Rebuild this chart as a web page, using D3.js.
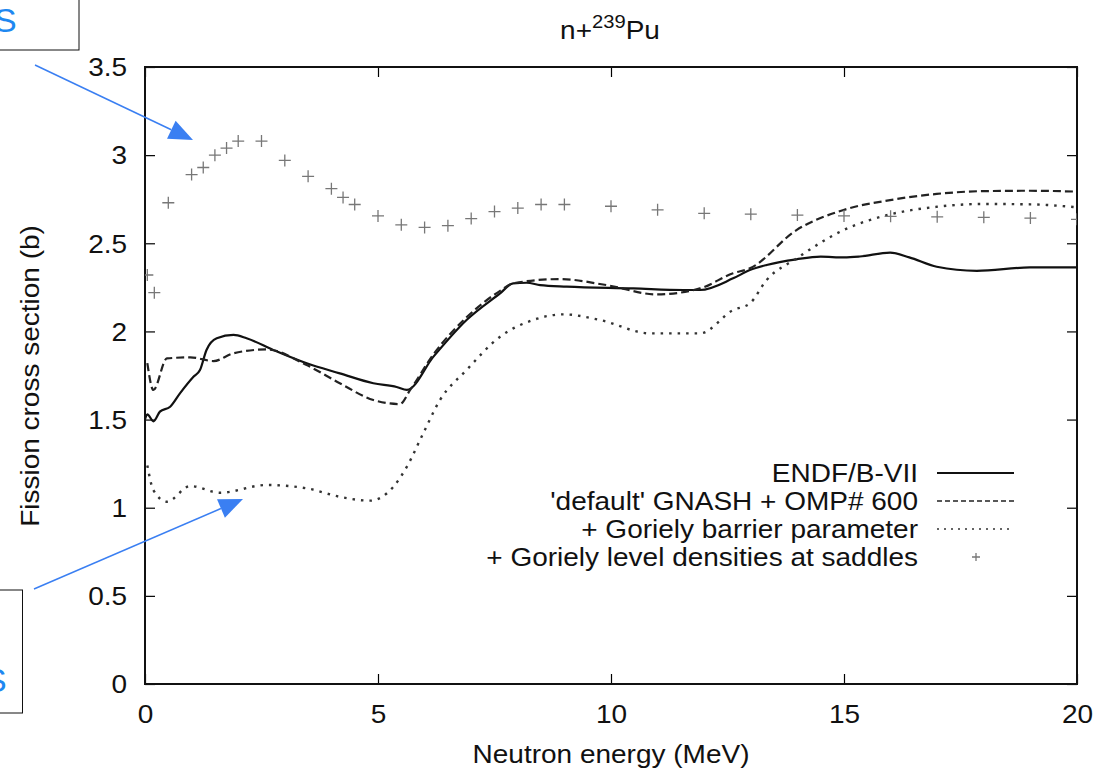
<!DOCTYPE html>
<html><head><meta charset="utf-8">
<script src="https://cdn.jsdelivr.net/npm/d3@7"></script>
<style>
html,body{margin:0;padding:0;background:#fff;}
svg{display:block;font-family:"Liberation Sans",Arial,Helvetica,sans-serif;}
</style></head>
<body>
<svg id="c" width="1099" height="776"></svg>
<script>
// ---- data ----
const xTicks = [0, 5, 10, 15, 20];
const yTicks = [0, 0.5, 1, 1.5, 2, 2.5, 3, 3.5];
const seriesNames = ["ENDF/B-VII", "'default' GNASH + OMP# 600", "+ Goriely barrier parameter", "+ Goriely level densities at saddles"];

const endfE = [0.0, 0.05, 0.18, 0.32, 0.54, 0.75, 1.04, 1.18, 1.32, 1.54, 1.9, 2.18, 2.75, 3.47, 4.18, 4.9, 5.4, 5.62, 6.19, 6.9, 7.62, 7.9, 8.19, 8.48, 9.05, 10.48, 11.55, 11.91, 12.62, 12.98, 13.34, 13.98, 14.5, 15.0, 15.34, 15.99, 16.4, 16.99, 17.85, 18.99, 20.0];
const endfV = [1.50, 1.53, 1.49, 1.545, 1.573, 1.649, 1.743, 1.781, 1.895, 1.961, 1.98, 1.961, 1.895, 1.819, 1.762, 1.706, 1.685, 1.668, 1.857, 2.065, 2.216, 2.273, 2.276, 2.263, 2.254, 2.244, 2.235, 2.235, 2.301, 2.348, 2.377, 2.409, 2.424, 2.420, 2.425, 2.447, 2.42, 2.367, 2.344, 2.363, 2.363];

const gnashE = [0.05, 0.18, 0.47, 0.97, 1.47, 1.9, 2.61, 3.47, 4.18, 4.9, 5.47, 5.69, 6.19, 6.9, 7.62, 7.9, 8.9, 9.9, 10.98, 11.91, 12.62, 12.98, 13.98, 14.99, 15.99, 16.99, 17.99, 18.99, 20.0];
const gnashV = [1.82, 1.668, 1.847, 1.853, 1.832, 1.876, 1.898, 1.809, 1.706, 1.611, 1.588, 1.668, 1.87, 2.08, 2.23, 2.273, 2.297, 2.263, 2.21, 2.244, 2.33, 2.358, 2.575, 2.689, 2.745, 2.78, 2.796, 2.798, 2.793];

const barrierE = [0.05, 0.18, 0.47, 0.97, 1.61, 2.61, 3.47, 4.18, 4.83, 5.33, 5.62, 5.97, 6.33, 6.9, 7.62, 8.33, 8.98, 9.76, 10.84, 11.91, 12.62, 12.98, 13.34, 13.98, 14.99, 15.99, 16.99, 17.99, 18.99, 20.0];
const barrierV = [1.24, 1.10, 1.034, 1.123, 1.085, 1.129, 1.11, 1.062, 1.04, 1.119, 1.233, 1.422, 1.611, 1.781, 1.97, 2.065, 2.097, 2.065, 1.989, 1.989, 2.121, 2.159, 2.292, 2.414, 2.575, 2.664, 2.707, 2.723, 2.721, 2.704];

const levelE = [0.05, 0.2, 0.5, 1.0, 1.25, 1.5, 1.75, 2.0, 2.5, 3.0, 3.5, 4.0, 4.25, 4.5, 5, 5.5, 6, 6.5, 7, 7.5, 8, 8.5, 9, 10, 11, 12, 13, 14, 15, 16, 17, 18, 19, 20];
const levelV = [2.32, 2.22, 2.73, 2.89, 2.93, 3.00, 3.04, 3.08, 3.08, 2.97, 2.88, 2.81, 2.76, 2.72, 2.655, 2.605, 2.59, 2.60, 2.64, 2.68, 2.70, 2.72, 2.72, 2.71, 2.69, 2.67, 2.665, 2.66, 2.655, 2.653, 2.65, 2.647, 2.643, 2.636];

// ---- layout ----
const svg = d3.select("#c");
const L = 145, R = 1077, T = 67, B = 684;
const x = d3.scaleLinear().domain([0, 20]).range([L, R]);
const y = d3.scaleLinear().domain([0, 3.5]).range([B, T]);
const FS = 25, SX = 1.12;

// helper: widened text (matches the wide sans face of the source)
const wtext = (g, px, py, str, anchor, fs, rot) => {
  const gg = g.append("g").attr("transform", `translate(${px},${py})${rot ? " rotate(" + rot + ")" : ""} scale(${SX},1)`);
  return gg.append("text").attr("text-anchor", anchor).attr("font-size", fs || FS)
    .attr("fill", "#111").text(str);
};

svg.append("defs").append("clipPath").attr("id", "pc")
  .append("rect").attr("x", L).attr("y", T).attr("width", R - L).attr("height", B - T);

// axes (ticks inward, mirrored)
const axB = svg.append("g").attr("transform", `translate(0,${B})`)
  .call(d3.axisBottom(x).tickValues(xTicks).tickSize(-10).tickPadding(0).tickFormat(d3.format("d")));
const axT = svg.append("g").attr("transform", `translate(0,${T})`)
  .call(d3.axisTop(x).tickValues(xTicks).tickSize(-10).tickFormat(""));
const axL = svg.append("g").attr("transform", `translate(${L},0)`)
  .call(d3.axisLeft(y).tickValues(yTicks).tickSize(-10).tickPadding(16).tickFormat(d => String(d)));
const axR = svg.append("g").attr("transform", `translate(${R},0)`)
  .call(d3.axisRight(y).tickValues(yTicks).tickSize(-10).tickFormat(""));
[axB, axT, axL, axR].forEach(g => {
  g.select(".domain").attr("stroke", "none");
  g.selectAll(".tick line").attr("stroke", "#000").attr("stroke-width", 1.2);
  g.selectAll(".tick text").attr("font-size", FS).attr("fill", "#111")
    .attr("font-family", "'Liberation Sans',Arial,sans-serif")
    .attr("transform", `scale(${SX},1)`);
});
axL.selectAll(".tick text").attr("dy", "0.35em");
axB.selectAll(".tick text").attr("y", 39).attr("dy", null);

// frame
svg.append("rect").attr("x", L).attr("y", T).attr("width", R - L).attr("height", B - T)
  .attr("fill", "none").attr("stroke", "#111").attr("stroke-width", 2);

// title
const title = wtext(svg, 610, 39, "", "middle", FS);
title.append("tspan").text("n+");
title.append("tspan").attr("font-size", 18).attr("dy", -11).text("239");
title.append("tspan").attr("dy", 11).text("Pu");

// axis labels
wtext(svg, (L + R) / 2, 763, "Neutron energy (MeV)", "middle", FS);
wtext(svg, 30, 376, "Fission cross section (b)", "middle", FS, -90).attr("dy", "0.35em");

// series
const line = d3.line().x(d => x(d[0])).y(d => y(d[1])).curve(d3.curveMonotoneX);
const plot = svg.append("g").attr("clip-path", "url(#pc)");
const styles = [
  {w: 2.2, dash: null, c: "#111"},
  {w: 2.2, dash: "8,4", c: "#222"},
  {w: 2.4, dash: "2.5,6", c: "#333"}
];
const lineData = [
  d3.zip(endfE, endfV),
  d3.zip(gnashE, gnashV),
  d3.zip(barrierE, barrierV)
];
lineData.forEach((dd, i) => {
  plot.append("path").datum(dd).attr("d", line).attr("fill", "none")
    .attr("stroke", styles[i].c).attr("stroke-width", styles[i].w)
    .attr("stroke-dasharray", styles[i].dash);
});
const plus = (g, cx, cy, s) => {
  g.append("path").attr("d", `M${cx - s},${cy}H${cx + s}M${cx},${cy - s}V${cy + s}`)
    .attr("stroke", "#777").attr("stroke-width", 1.3).attr("fill", "none");
};
d3.zip(levelE, levelV).forEach(d => plus(plot, x(d[0]), y(d[1]), 6));

// legend
const legY = [473, 501, 529, 557];
const lg = svg.append("g");
seriesNames.forEach((n, i) => {
  wtext(lg, 918, legY[i], n, "end", FS).attr("dy", "0.35em");
  if (i < 3) {
    lg.append("line").attr("x1", 937).attr("x2", 1014).attr("y1", legY[i]).attr("y2", legY[i])
      .attr("stroke", styles[i].c).attr("stroke-width", i === 0 ? 2.2 : 1.6)
      .attr("stroke-dasharray", i === 1 ? "5,3" : (i === 2 ? "2,5" : null));
  } else {
    plus(lg, 976, legY[i], 4);
  }
});

// annotations (boxes & arrows, cropped at the page edge as in the source image)
const blue = "#3a7ff2";
svg.append("rect").attr("x", -2).attr("y", -2).attr("width", 81).attr("height", 52)
  .attr("fill", "#fff").attr("stroke", "#111").attr("stroke-width", 1);
svg.append("text").attr("x", -6).attr("y", 32).attr("font-size", 34).attr("fill", "#1e88f0").text("S");
svg.append("rect").attr("x", -2).attr("y", 590).attr("width", 24.5).attr("height", 123)
  .attr("fill", "#fff").attr("stroke", "#111").attr("stroke-width", 1);
svg.append("text").attr("x", -16).attr("y", 692).attr("font-size", 34).attr("fill", "#1e88f0").text("S");

const arrow = (x1, y1, x2, y2) => {
  const a = Math.atan2(y2 - y1, x2 - x1), hl = 24, hw = 10;
  const bx = x2 - hl * Math.cos(a), by = y2 - hl * Math.sin(a);
  svg.append("line").attr("x1", x1).attr("y1", y1).attr("x2", bx).attr("y2", by)
    .attr("stroke", blue).attr("stroke-width", 1.5);
  svg.append("path").attr("d",
    `M${x2},${y2}L${bx + hw * Math.sin(a)},${by - hw * Math.cos(a)}L${bx - hw * Math.sin(a)},${by + hw * Math.cos(a)}Z`)
    .attr("fill", blue);
};
arrow(35, 65, 193, 140);
arrow(34, 589, 243, 499);
</script>
</body></html>
